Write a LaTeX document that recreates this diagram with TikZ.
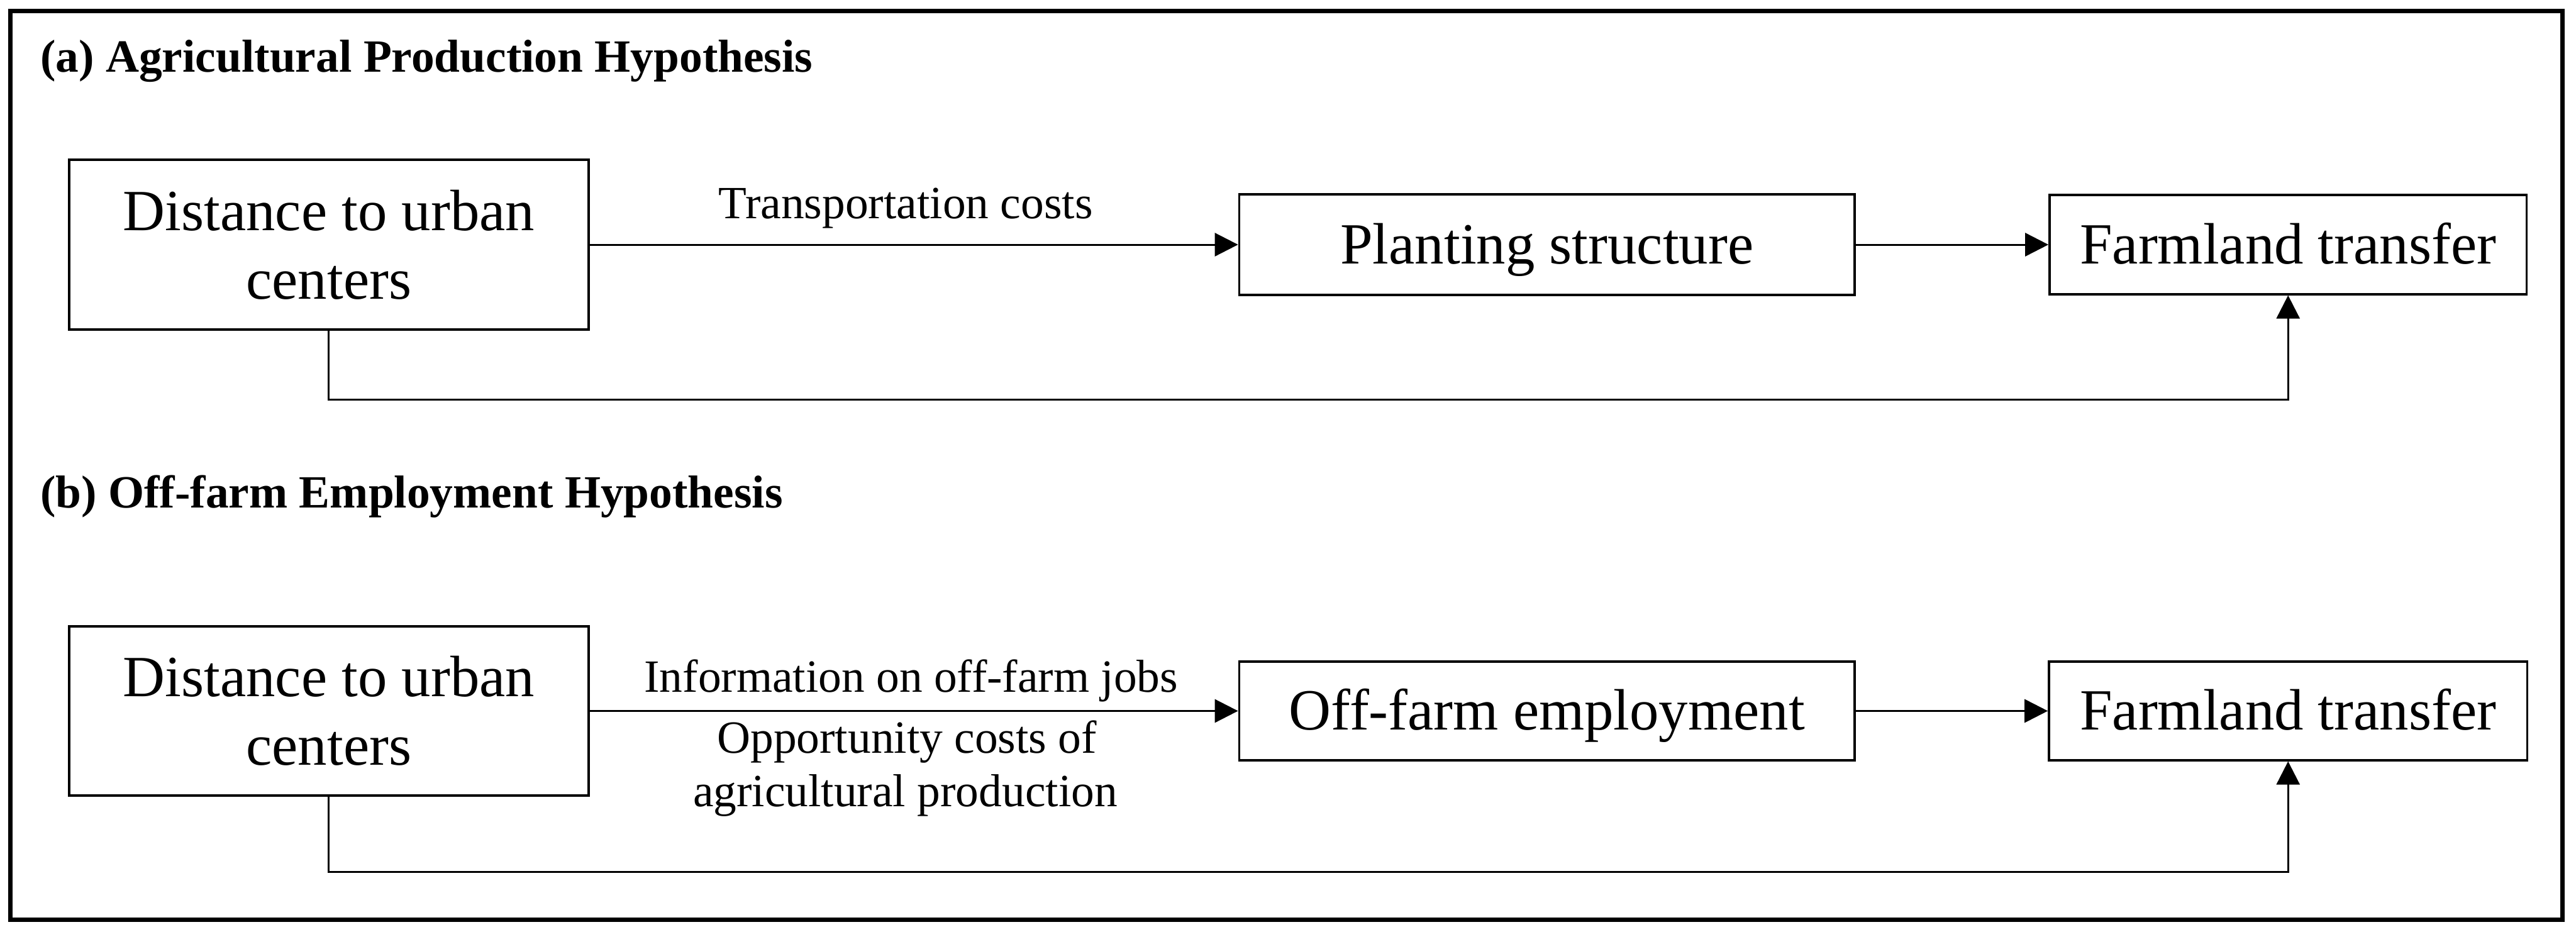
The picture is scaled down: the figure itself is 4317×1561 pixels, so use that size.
\documentclass[tikz,border=0pt]{standalone}
\usepackage{fontspec}
\setmainfont{Liberation Serif}
\usetikzlibrary{arrows.meta}
\begin{document}
\begin{tikzpicture}[x=0.01cm,y=-0.01cm,
  boxtext/.style={font=\fontsize{27.8}{32.6}\selectfont},
  onebox/.style={draw, line width=1.1pt, inner sep=0pt, boxtext, text height=18pt, text depth=0pt},
  twobox/.style={draw, line width=1.1pt, inner sep=0pt, boxtext, align=center},
  lbl/.style={font=\fontsize{22}{26}\selectfont, inner sep=0pt, anchor=base},
  ttl/.style={font=\fontsize{22}{26}\selectfont\bfseries, inner sep=0pt, anchor=base west},
  arr/.style={line width=0.9pt, -{Triangle[length=0.39cm,width=0.39cm]}},
]
\useasboundingbox (0,0) rectangle (4317,1561);
\node[draw, line width=2.1pt, minimum width=42.74cm, minimum height=15.22cm, inner sep=0pt] (frame) at (2156,780) {};

% (a)
\node[ttl] (ta) at (67,120.5) {(a) Agricultural Production Hypothesis};
\node[twobox, minimum width=8.70cm, minimum height=2.84cm] (A1) at (551,410) {Distance to urban\\centers};
\node[onebox, minimum width=10.31cm, minimum height=1.68cm] (A2) at (2592.5,410) {Planting structure};
\node[onebox, minimum width=7.99cm, minimum height=1.66cm] (A3) at (3834.5,410) {Farmland transfer};
\draw[arr] (A1.east) -- (A2.west);
\draw[arr] (A2.east) -- (A3.west);
\node[lbl] (la) at (1518,366) {Transportation costs};
\coordinate (ya) at (552,670);
\draw[arr] (A1.south) -- (A1.south |- ya) -| (A3.south);

% (b)
\node[ttl] (tb) at (67,851) {(b) Off-farm Employment Hypothesis};
\node[twobox, minimum width=8.70cm, minimum height=2.83cm] (B1) at (551,1191.5) {Distance to urban\\centers};
\node[onebox, minimum width=10.31cm, minimum height=1.66cm] (B2) at (2592.5,1191.5) {Off-farm employment};
\node[onebox, minimum width=8.01cm, minimum height=1.65cm] (B3) at (3834.5,1191.5) {Farmland transfer};
\draw[arr] (B1.east) -- (B2.west);
\draw[arr] (B2.east) -- (B3.west);
\node[lbl] (lb1) at (1527,1160) {Information on off-farm jobs};
\node[lbl] (lb2) at (1520,1262) {Opportunity costs of};
\node[lbl] (lb3) at (1517,1352) {agricultural production};
\coordinate (yb) at (552,1461);
\draw[arr] (B1.south) -- (B1.south |- yb) -| (B3.south);
\end{tikzpicture}
\end{document}
